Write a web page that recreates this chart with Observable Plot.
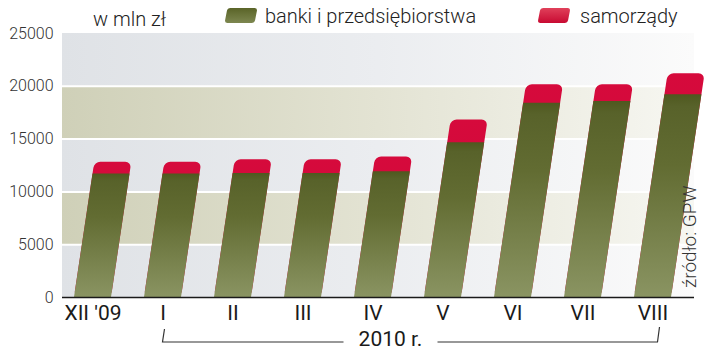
<!DOCTYPE html>
<html><head><meta charset="utf-8">
<script src="https://cdn.jsdelivr.net/npm/d3@7"></script>
<script src="https://cdn.jsdelivr.net/npm/@observablehq/plot@0.6"></script>
<style>
body{margin:0;background:#fff;}
#wrap{position:relative;width:720px;height:355px;overflow:hidden;}
</style></head><body><div id="wrap"></div>
<script>
const categories = ["XII '09", "I", "II", "III", "IV", "V", "VI", "VII", "VIII"];
const banki = [11700, 11700, 11750, 11750, 11900, 14650, 18400, 18550, 19200];
const samorzady = [1100, 1100, 1300, 1300, 1400, 2150, 1750, 1600, 2000];
const yTicks = [0, 5000, 10000, 15000, 20000, 25000];
const seriesNames = ["banki i przedsiębiorstwa", "samorządy"];
const unitLabel = "w mln zł";
const yearLabel = "2010 r.";
const sourceLabel = "źródło: GPW";

const FONT = "Roboto, 'Liberation Sans', Arial, sans-serif";

const rows = categories.map((c, i) => ({cat: c, banki: banki[i], samorzady: samorzady[i], total: banki[i] + samorzady[i]}));
const bands = yTicks.slice(0, -1).map((v, i) => ({y1: v, y2: yTicks[i + 1], k: i % 2}));

const plot = Plot.plot({
  width: 720, height: 355,
  marginLeft: 62, marginRight: 26, marginTop: 33, marginBottom: 58,
  style: {fontFamily: FONT, background: "transparent", overflow: "visible"},
  x: {domain: categories, range: [71.5, 673.3], paddingInner: 0.476, paddingOuter: 0, label: null},
  y: {domain: [0, 25000], label: null},
  marks: [
    Plot.rect(bands.filter(d => d.k === 0), {y1: "y1", y2: "y2", fill: "url(#bgGray)"}),
    Plot.rect(bands.filter(d => d.k === 1), {y1: "y1", y2: "y2", fill: "url(#bgKhaki)"}),
    Plot.ruleY(yTicks.slice(1, -1), {stroke: "#fff", strokeWidth: 2}),
    Plot.barY(rows, {x: "cat", y1: 0, y2: "total", fill: "url(#gRed)", rx: 6}),
    Plot.barY(rows, {x: "cat", y1: 0, y2: "banki", fill: "url(#gGreen)"}),
    Plot.ruleY([0], {stroke: "#1a1a1a", strokeWidth: 1.5}),
    Plot.axisY({ticks: yTicks, tickSize: 0, tickPadding: 9, fontSize: 16, fontWeight: 300, tickFormat: d => String(d), label: null, fill: "#333"}),
    Plot.axisX({tickSize: 0, tickPadding: 8, fontSize: 21, label: null, fill: "#1a1a1a"})
  ]
});

const svg = d3.select(plot);
const defs = svg.insert("defs", ":first-child");
function lin(id, horiz, stops) {
  const g = defs.append("linearGradient").attr("id", id)
    .attr("x1", 0).attr("y1", 0).attr("x2", horiz ? 1 : 0).attr("y2", horiz ? 0 : 1);
  stops.forEach(([o, c]) => g.append("stop").attr("offset", o).attr("stop-color", c));
}
lin("bgGray", true, [[0, "#dfe2e6"], [0.5, "#ebedf0"], [1, "#fbfbfb"]]);
lin("bgKhaki", true, [[0, "#cfd0b8"], [0.5, "#e3e3d3"], [1, "#f7f7f2"]]);
lin("gGreen", false, [[0, "#4f581f"], [0.06, "#58622a"], [0.35, "#626c32"], [1, "#8a9462"]]);
lin("gRed", false, [[0, "#d60a3c"], [1, "#c80a36"]]);
lin("swGreen", false, [[0, "#5a6428"], [1, "#7d8750"]]);
lin("swRed", false, [[0, "#e0405a"], [1, "#c80a32"]]);

// slant the bars like the original
const ys = plot.scale("y");
const y0 = ys.apply(0);
const deg = Math.atan(0.15) * 180 / Math.PI;
svg.selectAll('g[aria-label="bar"]').each(function() {
  const t = this.getAttribute("transform") || "";
  this.setAttribute("transform", `translate(0,${y0}) skewX(${-deg}) translate(0,${-y0}) ${t}`);
});

const xs = plot.scale("x");
const bw = xs.bandwidth;
const cx = c => xs.apply(c) + bw / 2;

// bracket with year
const tx = (cx("IV") + cx("V")) / 2 - 17;
const bracket = svg.append("g").attr("fill", "none").attr("stroke", "#333").attr("stroke-width", 1.2);
bracket.append("path").attr("d", `M${cx("I") + 2},329 L${cx("I")},342 L${tx - 47},342`);
bracket.append("path").attr("d", `M${tx + 47},342 L${cx("VIII") + 5},342 L${cx("VIII") + 7},327`);
svg.append("text").attr("x", tx).attr("y", 346).attr("text-anchor", "middle")
  .attr("font-size", 21).attr("fill", "#1a1a1a").attr("font-family", FONT).text(yearLabel);

// source
svg.append("text").attr("transform", "translate(696,288) rotate(-90)").attr("text-anchor", "start")
  .attr("font-size", 19).attr("font-weight", 300).attr("fill", "#333").attr("font-family", FONT).text(sourceLabel);

// unit + legend
const head = svg.append("g").attr("font-family", FONT).attr("font-size", 20).attr("font-weight", 300)
  .attr("fill", "#222").attr("text-anchor", "start");
head.append("text").attr("x", 93).attr("y", 26).text(unitLabel);
const sw = [[226, "url(#swGreen)", 265, seriesNames[0]], [539, "url(#swRed)", 580, seriesNames[1]]];
sw.forEach(([x, f, lx, name]) => {
  head.append("rect").attr("x", x).attr("y", 8).attr("width", 30).attr("height", 15).attr("rx", 3)
    .attr("fill", f).attr("transform", `translate(0,15.5) skewX(-11) translate(0,-15.5)`);
  head.append("text").attr("x", lx).attr("y", 23).text(name);
});

document.getElementById("wrap").appendChild(plot);
</script></body></html>
